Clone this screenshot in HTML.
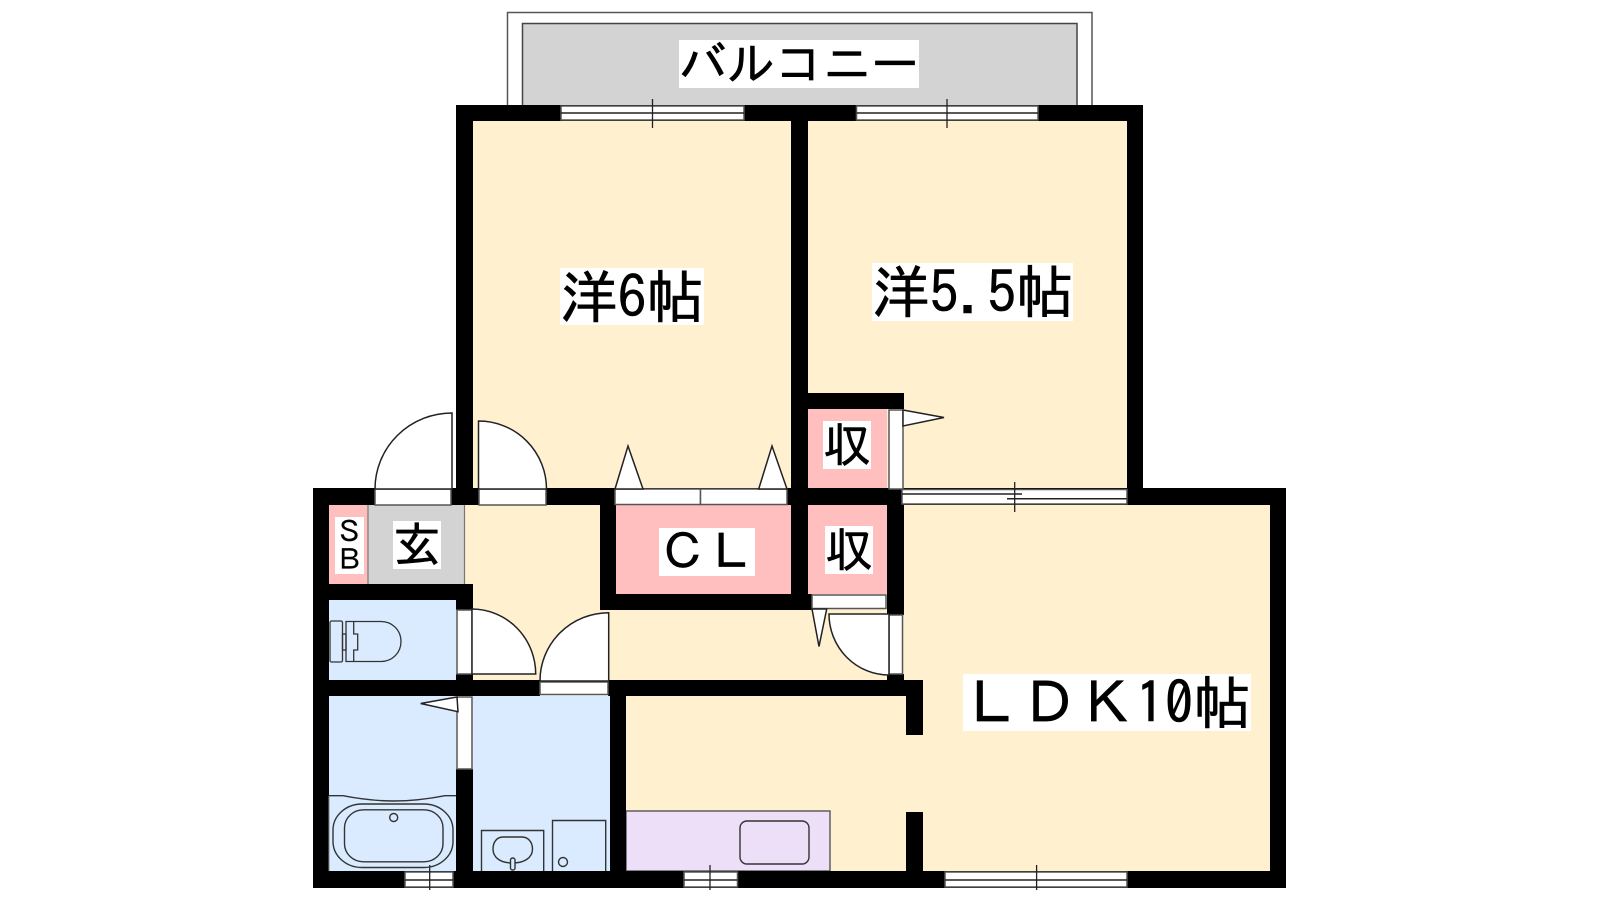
<!DOCTYPE html>
<html lang="ja">
<head>
<meta charset="utf-8">
<title>間取り図</title>
<style>
html,body{margin:0;padding:0;background:#fff}
svg{display:block}
text{font-family:"IPAGothic","Noto Sans CJK JP",sans-serif;fill:#000;stroke:#000;stroke-width:.6}
.l{fill:none;stroke:#222;stroke-width:1.4}
.g{fill:#fff;stroke:#555;stroke-width:1.5}
.d{fill:#fff;stroke:#222;stroke-width:1.5}
</style>
</head>
<body>
<svg width="1600" height="900" viewBox="0 0 1600 900" xmlns="http://www.w3.org/2000/svg">
<rect width="1600" height="900" fill="#fff"/>
<!-- balcony -->
<path d="M507.5 105V12.5H1092V105" fill="#fff" stroke="#555" stroke-width="1.5"/>
<path d="M522.5 105V23.5H1077V105" fill="#d3d3d3" stroke="#444" stroke-width="1.5"/>
<!-- floors -->
<g fill="#fff0cf">
<rect x="473" y="121" width="318" height="368"/>
<rect x="808" y="121" width="319" height="368"/>
<rect x="465" y="505" width="136" height="175"/>
<rect x="473" y="600" width="431" height="80"/>
<rect x="904" y="505" width="366" height="366"/>
<rect x="626" y="696" width="280" height="175"/>
</g>
<g fill="#ffbfbf">
<rect x="329" y="505" width="39" height="79"/>
<rect x="616" y="505" width="175" height="89"/>
<rect x="808" y="409" width="79" height="80"/>
<rect x="808" y="505" width="79" height="89"/>
</g>
<rect x="368" y="505" width="97" height="79" fill="#d3d3d3"/>
<path d="M368 505V584M464.5 505V584" stroke="#777" stroke-width="1.2"/>
<g fill="#daebff">
<rect x="329" y="600" width="127" height="80"/>
<rect x="329" y="696" width="127" height="175"/>
<rect x="473" y="696" width="137" height="175"/>
</g>
<rect x="626" y="811" width="204" height="60" fill="#eddff7" stroke="#555" stroke-width="1.4"/>
<!-- walls -->
<g fill="#000">
<rect x="456" y="105" width="687" height="16"/>
<rect x="456" y="105" width="17" height="400"/>
<rect x="791" y="105" width="17" height="505"/>
<rect x="1127" y="105" width="16" height="400"/>
<rect x="313" y="488" width="973" height="17"/>
<rect x="600" y="505" width="16" height="105"/>
<rect x="600" y="594" width="212" height="16"/>
<rect x="808" y="393" width="96" height="16"/>
<rect x="887" y="505" width="17" height="110"/>
<rect x="313" y="488" width="16" height="400"/>
<rect x="313" y="584" width="160" height="16"/>
<rect x="456" y="584" width="17" height="26"/>
<rect x="456" y="674" width="17" height="22"/>
<rect x="313" y="680" width="227" height="16"/>
<rect x="608" y="680" width="315" height="16"/>
<rect x="906" y="680" width="17" height="55"/>
<rect x="906" y="812" width="17" height="59"/>
<rect x="610" y="696" width="16" height="192"/>
<rect x="456" y="769" width="17" height="119"/>
<rect x="887" y="674" width="17" height="10"/>
<rect x="313" y="871" width="973" height="17"/>
<rect x="1270" y="488" width="16" height="400"/>
</g>
<!-- top windows -->
<rect x="561" y="106" width="183" height="14" class="g"/>
<path d="M561 113H744" stroke="#222" stroke-width="1.6"/>
<path d="M652.5 99V128" stroke="#222" stroke-width="1.3"/>
<rect x="856.5" y="106" width="181.5" height="14" class="g"/>
<path d="M856.5 113H1038" stroke="#222" stroke-width="1.6"/>
<path d="M947 99V128" stroke="#222" stroke-width="1.3"/>
<!-- LDK upper window -->
<rect x="902" y="489.5" width="225" height="14.5" class="g"/>
<path d="M902 494H1022M1007 498.7H1127" stroke="#222" stroke-width="1.5"/>
<path d="M1014.7 482V512" stroke="#222" stroke-width="1.3"/>
<!-- bottom windows -->
<rect x="405" y="872" width="48" height="15" class="g"/>
<path d="M405 880H453" stroke="#222" stroke-width="1.6"/>
<path d="M429.7 865V890" stroke="#222" stroke-width="1.3"/>
<rect x="684" y="872" width="53.5" height="15" class="g"/>
<path d="M684 880H737.5" stroke="#222" stroke-width="1.6"/>
<path d="M710 865V890" stroke="#222" stroke-width="1.3"/>
<rect x="945" y="872" width="182" height="15" class="g"/>
<path d="M945 880H1127" stroke="#222" stroke-width="1.6"/>
<path d="M1036.6 865V890" stroke="#222" stroke-width="1.3"/>
<!-- entrance door -->
<rect x="375" y="489" width="76" height="16" class="g"/>
<path d="M452 413V489H375A77 76 0 0 1 452 413Z" class="d"/>
<!-- room door -->
<rect x="479" y="489" width="67" height="16" class="g"/>
<path d="M478.5 421V489H546.5A68 68 0 0 0 478.5 421Z" class="d"/>
<!-- CL doors -->
<rect x="615" y="489" width="85.5" height="15.5" class="g"/>
<rect x="700.5" y="489" width="86.5" height="15.5" class="g"/>
<path d="M615 489L628 446L643 489Z" class="d"/>
<path d="M758.7 489L772 446L787 489Z" class="d"/>
<!-- storage 1 door -->
<rect x="889" y="410" width="14" height="79" class="g"/>
<path d="M903 410L944 417.5L903 426Z" class="d"/>
<!-- storage 2 door -->
<rect x="812" y="595" width="74" height="13.5" class="g"/>
<path d="M812 609L819 646.5L826.7 609Z" class="d"/>
<!-- hall door to LDK -->
<rect x="889" y="615" width="13.5" height="59" class="g"/>
<path d="M829 614H889V675A60 61 0 0 1 829 614Z" class="d"/>
<!-- toilet door -->
<rect x="457" y="610" width="15" height="64" class="g"/>
<path d="M472 609V674H535.7A64 65 0 0 0 472 609Z" class="d"/>
<!-- washroom door -->
<rect x="540" y="682" width="68" height="12.5" class="g"/>
<path d="M608.7 612.7V681H540A69 68 0 0 1 608.7 612.7Z" class="d"/>
<!-- bath door -->
<rect x="457" y="697" width="15" height="72" class="g"/>
<path d="M457 697L420.7 703.5L458 711.7Z" class="d"/>
<!-- toilet -->
<g fill="none" stroke="#333" stroke-width="1.3">
<rect x="330" y="621" width="12.5" height="41" rx="1.5"/>
<rect x="342.5" y="634" width="3.5" height="16"/>
<path d="M346 621.5H381C392 621.5 401 630 401 641.5C401 653 392 661.5 381 661.5H346Z"/>
<path d="M353.7 621.5V634H357.7V650H353.7V661.5"/>
</g>
<!-- bath -->
<g fill="none" stroke="#333" stroke-width="1.4">
<path d="M329 795.7H343C360 799 375 801 394 801C413 801 428 799 445 795.7H456"/>
<rect x="333" y="804" width="120" height="63.5" rx="29" ry="26"/>
<rect x="344.5" y="809.8" width="98.5" height="52" rx="19" ry="18"/>
<circle cx="393.7" cy="817.5" r="4"/>
</g>
<path d="M329 796V871" stroke="#888" stroke-width="1"/>
<!-- washroom -->
<g fill="none" stroke="#333" stroke-width="1.4">
<path d="M481.5 871V830.5H543.7V871"/>
<path d="M552.5 871V820.5H605.7V871"/>
<path d="M503 837H522C528 837 532.5 842 532.5 849C532.5 858 524 863 512.5 863C501 863 493 858 493 849C493 842 497 837 503 837Z"/>
<rect x="510.5" y="858" width="4.5" height="12" rx="2" fill="#daebff"/>
<circle cx="563" cy="862" r="4.5"/>
</g>
<!-- sink -->
<rect x="740" y="821" width="69" height="43" rx="7" fill="none" stroke="#333" stroke-width="1.4"/>
<!-- labels -->
<g fill="#fff">
<rect x="679" y="40" width="240" height="48"/>
<rect x="560" y="268" width="144" height="57"/>
<rect x="872" y="263" width="201" height="58"/>
<rect x="963" y="674" width="288" height="57"/>
<rect x="659" y="528" width="96" height="48"/>
<rect x="823" y="421" width="48" height="48"/>
<rect x="825" y="526" width="48" height="48"/>
<rect x="393" y="521" width="48" height="48"/>
<rect x="335" y="517" width="29" height="57"/>
</g>
<text x="679" y="81" font-size="48">バルコニー</text>
<text x="560" y="318" font-size="57.6">洋6帖</text>
<text x="872" y="313" font-size="57.6">洋5.5帖</text>
<text x="963" y="724" font-size="57.6">ＬＤＫ10帖</text>
<text x="659" y="569" font-size="48">ＣＬ</text>
<text x="823" y="462" font-size="48">収</text>
<text x="825" y="567" font-size="48">収</text>
<text x="393" y="562" font-size="48">玄</text>
<text x="335" y="542" font-size="28.8" style="stroke-width:.3">Ｓ</text>
<text x="335" y="570" font-size="28.8" style="stroke-width:.3">Ｂ</text>
</svg>
</body>
</html>
